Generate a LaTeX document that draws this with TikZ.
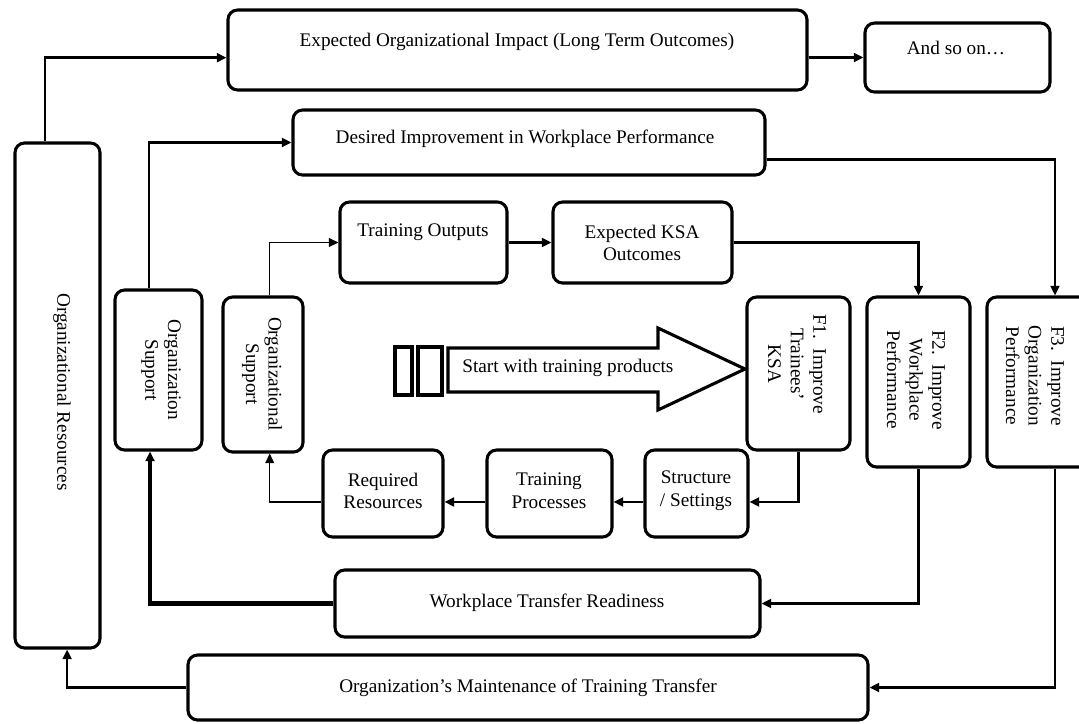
\documentclass[tikz,border=0pt]{standalone}
\usepackage{fontspec}
\setmainfont{Liberation Serif}
\usetikzlibrary{arrows.meta, fit}

\tikzset{
  box/.style={draw, line width=1.6pt, rounded corners=5pt, inner sep=0pt},
  lbl/.style={align=center, inner sep=0pt},
  link/.style={line width=1.4pt, -{Triangle[length=5pt, width=4.6pt]}},
  thinlink/.style={line width=0.6pt, -{Triangle[length=5pt, width=4.6pt]}},
  heavylink/.style={line width=2.3pt, -{Triangle[length=5pt, width=4.6pt]}},
}

\begin{document}
\begin{tikzpicture}[x=0.52pt, y=-0.52pt, font=\fontsize{10}{11.8}\selectfont]

  \useasboundingbox (0,0) rectangle (1079,723);

  % Top row
  \node[box, fit={(228,10) (807,90)}] (impact) {};
  \node[lbl] (impact-t) at (517,42) {Expected Organizational Impact (Long Term Outcomes)};
  \node[box, fit={(865,23) (1050,92)}] (andso) {};
  \node[lbl] (andso-t) at (956,48) {And so on…};
  \node[box, fit={(293,110) (765,175)}] (desired) {};
  \node[lbl] (desired-t) at (525,139) {Desired Improvement in Workplace Performance};

  % Middle row
  \node[box, fit={(340,202) (507,283)}] (outputs) {};
  \node[lbl] (outputs-t) at (423,232) {Training Outputs};
  \node[box, fit={(553,202) (732,283)}] (ksa) {};
  \node[lbl] (ksa-t) at (642,243) {Expected KSA\\Outcomes};

  % Vertical boxes
  \node[box, fit={(15,143) (100,648)}] (orgres) {};
  \node[lbl, rotate=-90] (orgres-t) at (62,392) {Organizational Resources};
  \node[box, fit={(115,290) (202,450)}] (orgsup) {};
  \node[lbl, rotate=-90] (orgsup-t) at (161,370) {Organization\\Support};
  \node[box, fit={(223,297) (303,452)}] (orgal) {};
  \node[lbl, rotate=-90] (orgal-t) at (262,374) {Organizational\\Support};
  \node[box, fit={(747,297) (850,450)}] (f1) {};
  \node[lbl, rotate=-90] (f1-t) at (797,364) {F1.\ \ Improve\\Trainees'\\KSA};
  \node[box, fit={(867,297) (970,467)}] (f2) {};
  \node[lbl, rotate=-90] (f2-t) at (916,380) {F2.\ \ Improve\\Workplace\\Performance};
  \node[box, fit={(987,297) (1123,467)}] (f3) {};
  \node[lbl, rotate=-90] (f3-t) at (1035,376) {F3.\ \ Improve\\Organization\\Performance};

  % Start arrow
  \draw[line width=2.2pt] (395,347) rectangle (412,395);
  \draw[line width=2.2pt] (418,347) rectangle (442,395);
  \draw[line width=1.6pt, fill=white] (448,348) -- (658,348) -- (658,328) -- (745,369)
    -- (658,410) -- (658,392) -- (448,392) -- cycle;
  \node[lbl, anchor=west] (start) at (462,368) {Start with training products};

  % Bottom row
  \node[box, fit={(645,450) (748,537)}] (struct) {};
  \node[lbl] (struct-t) at (696,491) {Structure\\/ Settings};
  \node[box, fit={(487,450) (612,537)}] (process) {};
  \node[lbl] (process-t) at (549,491) {Training\\Processes};
  \node[box, fit={(323,450) (443,537)}] (resources) {};
  \node[lbl] (resources-t) at (383,491) {Required\\Resources};
  \node[box, fit={(335,570) (760,637)}] (ready) {};
  \node[lbl] (ready-t) at (547,603) {Workplace Transfer Readiness};
  \node[box, fit={(188,655) (868,720)}] (maint) {};
  \node[lbl] (maint-t) at (528,688) {Organization’s Maintenance of Training Transfer};

  % Connectors
  \draw[link] ([xshift=-6.5pt]orgres.north) |- ([yshift=-4pt]impact.west);
  \draw[link] (impact.east |- andso.west) -- (andso.west);
  \draw[link] ([xshift=-5pt]orgsup.north) |- (desired.west);
  \draw[link] ([yshift=-9pt]desired.east) -| (f3.north);
  \draw[thinlink] ([xshift=3.5pt]orgal.north) |- (outputs.west);
  \draw[link] (outputs.east) -- (ksa.west);
  \draw[link] (ksa.east) -| (f2.north);
  \draw[link] (f1.south) |- ([yshift=-4.4pt]struct.east);
  \draw[link] ([yshift=-4.4pt]struct.west) -- ([yshift=-4.4pt]process.east);
  \draw[link] ([yshift=-4.4pt]process.west) -- ([yshift=-4.4pt]resources.east);
  \draw[thinlink] ([yshift=-4.4pt]resources.west) -| ([xshift=3.5pt]orgal.south);
  \draw[link] (f2.south) |- (ready.east);
  \draw[heavylink] (ready.west) -| ([xshift=-4.4pt]orgsup.south);
  \draw[link] (f3.south) |- (maint.east);
  \draw[link] (maint.west) -| ([xshift=5pt]orgres.south);

\end{tikzpicture}
\end{document}
